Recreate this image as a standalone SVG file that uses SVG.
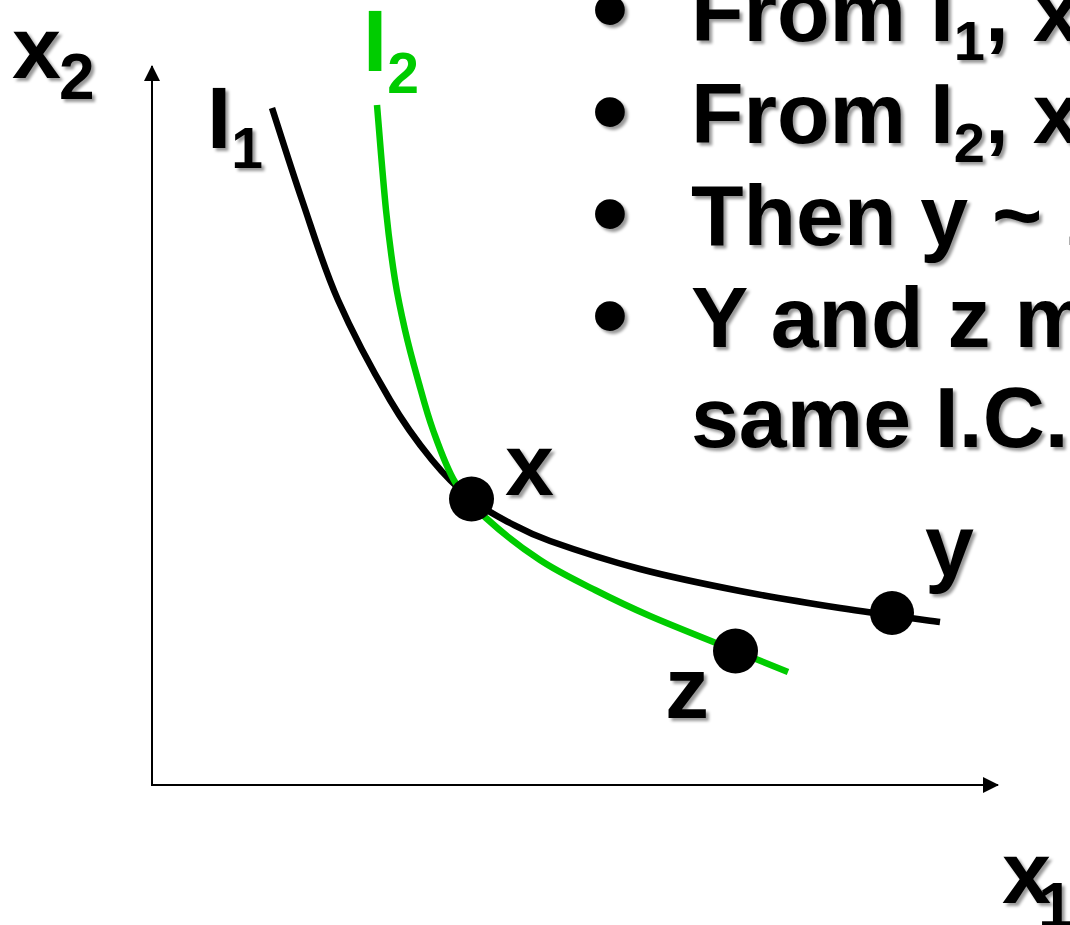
<svg xmlns="http://www.w3.org/2000/svg" width="1070" height="925" viewBox="0 0 1070 925">
<defs>
<filter id="sh" x="-10%" y="-10%" width="130%" height="130%">
<feDropShadow dx="3" dy="3" stdDeviation="1.6" flood-color="#000" flood-opacity="0.4"/>
</filter>
<marker id="ah" viewBox="0 0 16 16" refX="15" refY="8" markerWidth="16" markerHeight="16" markerUnits="userSpaceOnUse" orient="auto">
<path d="M0,0 L16,8 L0,16 Z" fill="#000"/>
</marker>
</defs>
<style>
text{font-family:"Liberation Sans",Arial,sans-serif;font-weight:bold;fill:#000}
.sh{filter:url(#sh)}
.big{font-size:87px}
.lbl{font-size:88px}
.sub{font-size:57px}
.bul{font-size:86px}
.bsub{font-size:56px}
.dot{font-size:104px}
.green{fill:#00CC00}
.axis{stroke:#000;stroke-width:2;fill:none}
.ic1{stroke:#000;stroke-width:6.5;fill:none}
.ic2{stroke:#00CC00;stroke-width:6.5;fill:none}
.pt{fill:#000}
</style>
<rect width="1070" height="925" fill="#fff"/>
<g id="connectors">
<line class="axis" x1="152" y1="786" x2="152" y2="66" marker-end="url(#ah)"/>
<line class="axis" x1="151" y1="785" x2="998" y2="785" marker-end="url(#ah)"/>
<path id="curve-I1" class="ic1" d="M272,108 C277,123.3 291,168 302,200 C313,232 323.3,266.7 338,300 C352.7,333.3 374.3,373.3 390,400 C405.7,426.7 418.5,443.5 432,460 C445.5,476.5 458,488.5 471,499 C484,509.5 496.8,516 510,523 C523.2,530 528.3,533.3 550,541 C571.7,548.7 608.3,560.7 640,569 C671.7,577.3 706.7,584.5 740,591 C773.3,597.5 806.7,602.8 840,608 C873.3,613.2 923.3,619.7 940,622"/>
<path id="curve-I2" class="ic2" d="M377,105 C378.5,122.5 383,180.8 386,210 C389,239.2 391.8,260 395,280 C398.2,300 401.2,313.3 405,330 C408.8,346.7 413.3,363.3 418,380 C422.7,396.7 426.8,413 433,430 C439.2,447 446.2,467.3 455,482 C463.8,496.7 471.8,505 486,518 C500.2,531 521.8,548 540,560 C558.2,572 576.7,580.7 595,590 C613.3,599.3 626.5,605.8 650,616 C673.5,626.2 713,641.7 736,651 C759,660.3 779.3,668.5 788,672"/>
</g>
<g id="axis-x2"><text class="lbl sh" x="12" y="78">x<tspan font-size="64" x="59" y="99">2</tspan></text></g>
<g id="axis-x1"><text class="lbl sh" x="1002" y="903">x<tspan font-size="64" x="1038" y="928">1</tspan></text></g>
<g id="label-I1"><text class="big sh" x="207" y="148">I<tspan class="sub" y="168">1</tspan></text></g>
<g id="label-I2"><text class="big green" x="363" y="71">I<tspan class="sub" y="93">2</tspan></text></g>
<g id="point-x"><circle class="pt" cx="471.5" cy="499" r="22.5"/><text class="lbl sh" x="505" y="495">x</text></g>
<g id="point-y"><circle class="pt" cx="892" cy="613" r="22"/><text class="lbl sh" x="925" y="576">y</text></g>
<g id="point-z"><circle class="pt" cx="735.5" cy="651" r="22.5"/><text class="lbl sh" x="665" y="718">z</text></g>
<g id="bullets">
<text class="dot sh" x="610" y="44" text-anchor="middle">•</text>
<text class="dot sh" x="610" y="146" text-anchor="middle">•</text>
<text class="dot sh" x="610" y="248" text-anchor="middle">•</text>
<text class="dot sh" x="610" y="350" text-anchor="middle">•</text>
<text class="bul sh" x="691" y="41">From I<tspan class="bsub" dy="19">1</tspan><tspan dy="-19">, x</tspan></text>
<text class="bul sh" x="691" y="143">From I<tspan class="bsub" dy="19">2</tspan><tspan dy="-19">, x</tspan></text>
<text class="bul sh" x="691" y="245">Then y ~ z</text>
<text class="bul sh" x="691" y="347">Y and z m</text>
<text class="bul sh" x="691" y="447">same I.C.</text>
</g>
</svg>
